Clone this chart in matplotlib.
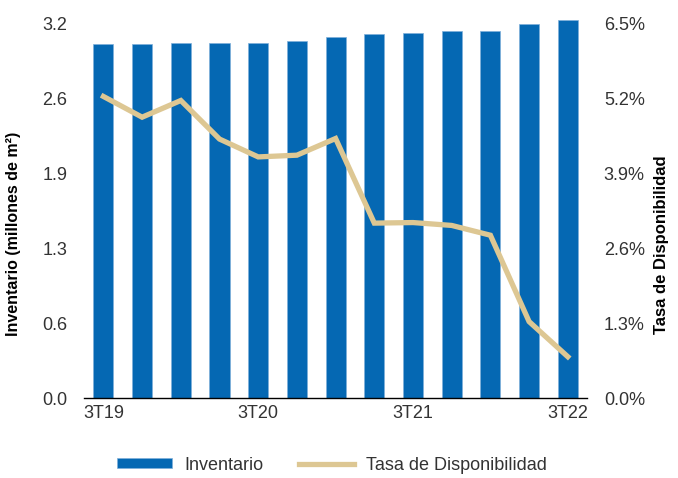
import matplotlib.pyplot as plt
import numpy as np

# quarterly inventory (millions of m2) and availability rate (%)
quarters = ["3T19", "4T19", "1T20", "2T20", "3T20", "4T20", "1T21",
            "2T21", "3T21", "4T21", "1T22", "2T22", "3T22"]
inventario = [3.03, 3.03, 3.04, 3.04, 3.04, 3.05, 3.09,
              3.11, 3.12, 3.14, 3.14, 3.20, 3.23]
disponibilidad = [5.24, 4.88, 5.17, 4.50, 4.19, 4.22, 4.51,
                  3.04, 3.05, 3.00, 2.83, 1.33, 0.72]

left_ticks = [0.0, 0.64, 1.28, 1.92, 2.56, 3.2]
right_ticks = [0.0, 1.3, 2.6, 3.9, 5.2, 6.5]

BLUE = "#0568B3"
TAN = "#DDC793"
TXT = "#333333"

plt.rcParams['font.family'] = ['Liberation Sans', 'DejaVu Sans']

fig = plt.figure(figsize=(6.78, 4.78), dpi=100)
ax = fig.add_axes([0.124, 0.167, 0.742, 0.783])
x = np.arange(len(quarters))

bars = ax.bar(x, inventario, width=0.52, color=BLUE, edgecolor="#7FB0DA",
              linewidth=0.5, label="Inventario", clip_on=False)
ax.set_xlim(-0.5, 12.5)
ax.set_ylim(0, 3.2)
ax.set_yticks(left_ticks)
ax.set_yticklabels(["%.1f" % v for v in left_ticks])
ax.set_xticks(x[::4])
ax.set_xticklabels(quarters[::4])
for s in ["top", "left", "right"]:
    ax.spines[s].set_visible(False)
ax.spines["bottom"].set_color("black")
ax.spines["bottom"].set_linewidth(1.0)
ax.tick_params(axis="both", length=0, labelsize=13, labelcolor=TXT)
ax.tick_params(axis="y", pad=12)
ax.tick_params(axis="x", pad=5)
ax.set_ylabel("Inventario (millones de m²)", fontsize=11.5, fontweight="bold")
ax.yaxis.label.set_va("center")
ax.yaxis.set_label_coords(-0.141, 0.44)

ax2 = ax.twinx()
line, = ax2.plot(x, disponibilidad, color=TAN, linewidth=3.8,
                 solid_joinstyle="miter", label="Tasa de Disponibilidad")
ax2.set_ylim(0, 6.5)
ax2.set_yticks(right_ticks)
ax2.set_yticklabels(["%.1f%%" % v for v in right_ticks])
for s in ax2.spines.values():
    s.set_visible(False)
ax2.tick_params(axis="y", length=0, labelsize=13, labelcolor=TXT, pad=12)
ax2.set_ylabel("Tasa de Disponibilidad", fontsize=12, fontweight="bold")
ax2.yaxis.label.set_va("center")
ax2.yaxis.set_label_coords(1.147, 0.41)

fig.legend([bars, line], ["Inventario", "Tasa de Disponibilidad"],
           loc="center", bbox_to_anchor=(0.49, 0.027), ncol=2, frameon=False,
           fontsize=13, handlelength=3.0, handleheight=0.5,
           columnspacing=2.0, handletextpad=0.7, labelcolor=TXT)

fig.savefig("out.png", dpi=100)
